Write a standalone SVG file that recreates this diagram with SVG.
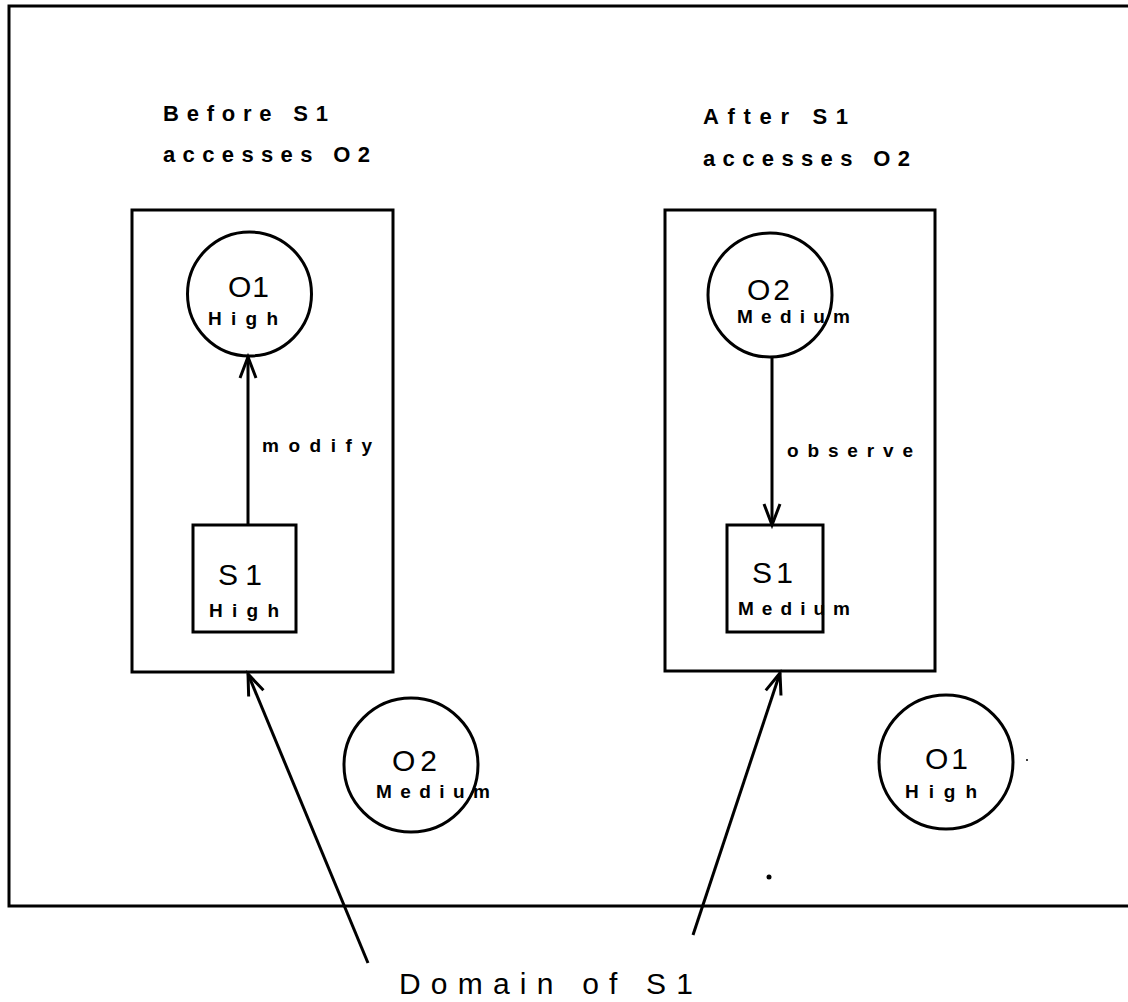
<svg xmlns="http://www.w3.org/2000/svg" width="1128" height="1002" viewBox="0 0 1128 1002">
<defs>
<style>
.ln{stroke:#000;stroke-width:3;fill:none}
.sh{stroke:#000;stroke-width:3;fill:none}
.big{font-family:"Liberation Sans",Arial,sans-serif;font-size:30px;fill:#000}
.sm{font-family:"Liberation Sans",Arial,sans-serif;font-size:19px;font-weight:bold;fill:#000}
.hd{font-family:"Liberation Sans",Arial,sans-serif;font-size:22px;font-weight:bold;fill:#000}
</style>
<marker id="arr" markerUnits="userSpaceOnUse" markerWidth="30" markerHeight="30" viewBox="-25 -12 30 24" refX="0" refY="0" orient="auto">
<path d="M-21,-8 L0,0 L-21,8" fill="none" stroke="#000" stroke-width="3"/>
</marker>
</defs>
<rect width="1128" height="1002" fill="#fff"/>
<g id="frame">
<path class="ln" d="M1128,6 L9,6 L9,906 L1128,906"/>
</g>
<g id="headers">
<text class="hd" x="163" y="121" textLength="165" lengthAdjust="spacing">Before S1</text>
<text class="hd" x="163" y="162" textLength="207" lengthAdjust="spacing">accesses O2</text>
<text class="hd" x="703" y="124" textLength="145" lengthAdjust="spacing">After S1</text>
<text class="hd" x="703" y="166" textLength="207" lengthAdjust="spacing">accesses O2</text>
</g>
<g id="domain-before"><rect class="sh" x="132" y="210" width="261" height="462"/></g>
<g id="domain-after"><rect class="sh" x="665" y="210" width="270" height="461"/></g>
<g id="o1-before">
<circle class="sh" cx="249.5" cy="294" r="62"/>
<text class="big" x="228" y="297" textLength="41" lengthAdjust="spacing">O1</text>
<text class="sm" x="208" y="325" textLength="70" lengthAdjust="spacing">High</text>
</g>
<g id="s1-before">
<rect class="sh" x="193" y="525" width="103" height="107"/>
<text class="big" x="218" y="585" textLength="44" lengthAdjust="spacing">S1</text>
<text class="sm" x="209" y="617" textLength="70" lengthAdjust="spacing">High</text>
</g>
<g id="o2-after">
<circle class="sh" cx="770" cy="295" r="62"/>
<text class="big" x="747" y="300" textLength="43" lengthAdjust="spacing">O2</text>
<text class="sm" x="737" y="323" textLength="113" lengthAdjust="spacing">Medium</text>
</g>
<g id="s1-after">
<rect class="sh" x="727" y="525" width="96" height="107"/>
<text class="big" x="752" y="583" textLength="41" lengthAdjust="spacing">S1</text>
<text class="sm" x="738" y="615" textLength="112" lengthAdjust="spacing">Medium</text>
</g>
<g id="o2-outside">
<circle class="sh" cx="411" cy="765" r="67"/>
<text class="big" x="392" y="771" textLength="45" lengthAdjust="spacing">O2</text>
<text class="sm" x="376" y="798" textLength="114" lengthAdjust="spacing">Medium</text>
</g>
<g id="o1-outside">
<circle class="sh" cx="946" cy="762" r="67"/>
<text class="big" x="925" y="769" textLength="43" lengthAdjust="spacing">O1</text>
<text class="sm" x="905" y="798" textLength="72" lengthAdjust="spacing">High</text>
</g>
<g id="domain-label">
<text class="big" x="399" y="994" textLength="294" lengthAdjust="spacing">Domain of S1</text>
</g>
<g id="connectors">
<line class="ln" x1="248" y1="525" x2="248" y2="357" marker-end="url(#arr)"/>
<text class="sm" x="262" y="452" textLength="110" lengthAdjust="spacing">modify</text>
<line class="ln" x1="772" y1="356" x2="772" y2="525" marker-end="url(#arr)"/>
<text class="sm" x="787" y="457" textLength="126" lengthAdjust="spacing">observe</text>
<line class="ln" x1="368" y1="963" x2="248" y2="674" marker-end="url(#arr)"/>
<line class="ln" x1="693" y1="935" x2="780" y2="673" marker-end="url(#arr)"/>
</g>
<g id="specks">
<circle cx="769" cy="877" r="2.5" fill="#000"/>
<circle cx="1027" cy="760" r="1" fill="#000"/>
</g>
</svg>
